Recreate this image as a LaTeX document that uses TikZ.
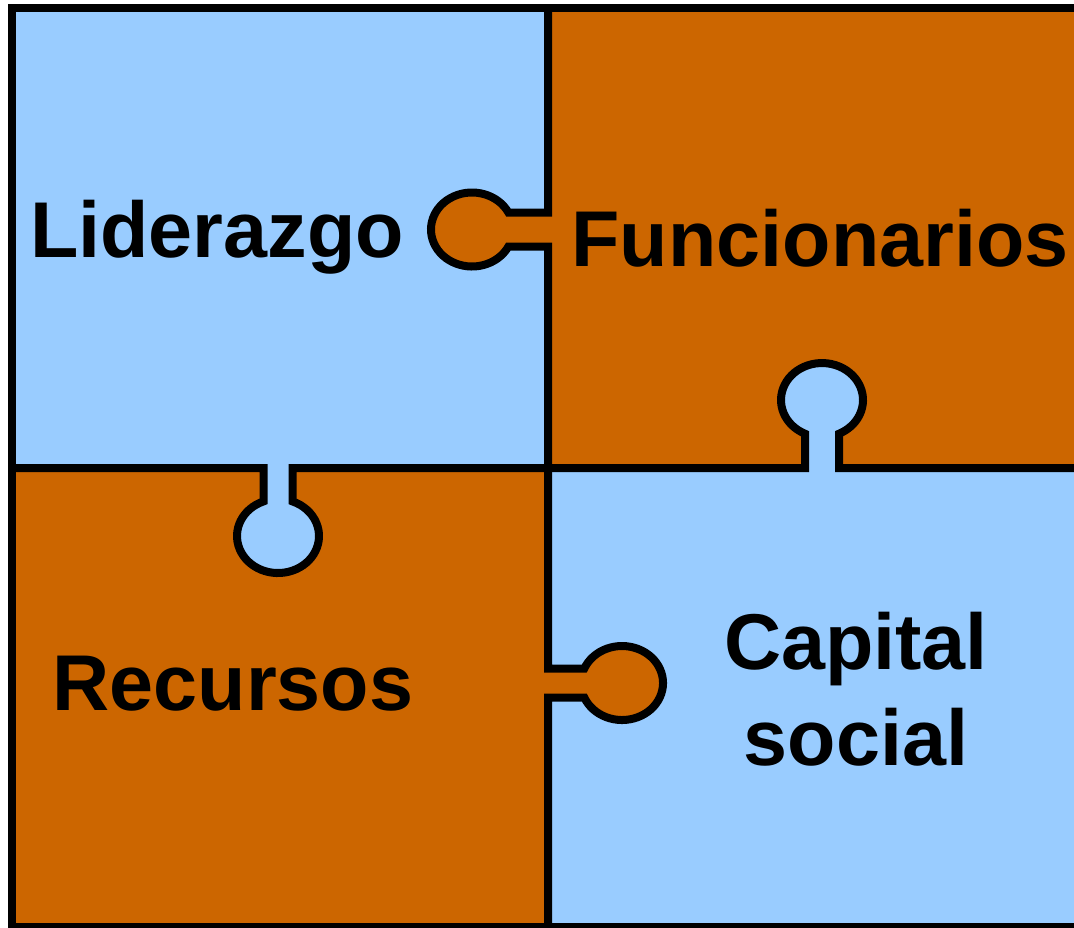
\documentclass[tikz,border=0pt]{standalone}
\usepackage{fontspec}
\setmainfont{Liberation Sans}
\definecolor{piezaazul}{HTML}{99CCFF}
\definecolor{piezanaranja}{HTML}{CC6600}
\tikzset{
  borde/.style={line width=0.08cm},
  rotulo/.style={font=\fontsize{22.5pt}{27pt}\selectfont\bfseries, inner sep=0pt, anchor=base},
}
\begin{document}
\begin{tikzpicture}[x=0.01cm,y=-0.01cm]
			\useasboundingbox (0,0) rectangle (1074,927);
			% piezas
			\fill[piezaazul] (12,8) rectangle (548,468);
			\fill[piezanaranja] (548,8) rectangle (1080,468);
			\fill[piezanaranja] (12,468) rectangle (548,927);
			\fill[piezaazul] (548,468) rectangle (1080,927);
			% lenguetas
			\fill[piezanaranja] (556,212.5) -- (508.4,212.5)
			arc[start angle=-27.35, end angle=-332.65, x radius=41, y radius=37]
			-- (556,246.5) -- cycle;
			\fill[piezaazul] (805,476) -- (805,433.7)
			arc[start angle=114.49, end angle=425.51, x radius=41, y radius=37]
			-- (839,476) -- cycle;
			\fill[piezaazul] (263.5,460) -- (263.5,501.4)
			arc[start angle=-110.71, end angle=-429.29, x radius=41, y radius=37]
			-- (292.5,460) -- cycle;
			\fill[piezanaranja] (540,668.5) -- (584.3,668.5)
			arc[start angle=-156.93, end angle=156.93, x radius=41, y radius=37]
			-- (540,697.5) -- cycle;
			% bordes
			\draw[borde] (548,8) -- (548,212.5) -- (508.4,212.5)
			arc[start angle=-27.35, end angle=-332.65, x radius=41, y radius=37]
			-- (548,246.5) -- (548,668.5) -- (584.3,668.5)
			arc[start angle=-156.93, end angle=156.93, x radius=41, y radius=37]
			-- (548,697.5) -- (548,927);
			\draw[borde] (12,468) -- (263.5,468) -- (263.5,501.4)
			arc[start angle=-110.71, end angle=-429.29, x radius=41, y radius=37]
			-- (292.5,468) -- (805,468) -- (805,433.7)
			arc[start angle=114.49, end angle=425.51, x radius=41, y radius=37]
			-- (839,468) -- (1080,468);
			\draw[borde] (12,8) rectangle (1080,927);
			% textos
			\node[rotulo] (lid) at (217,257) {Liderazgo};
			\node[rotulo] (fun) at (820,266) {Funcionarios};
			\node[rotulo] (rec) at (233,710) {Recursos};
			\node[rotulo] (cap) at (856,669) {Capital};
			\node[rotulo] (soc) at (856,765) {social};
\end{tikzpicture}
\end{document}
